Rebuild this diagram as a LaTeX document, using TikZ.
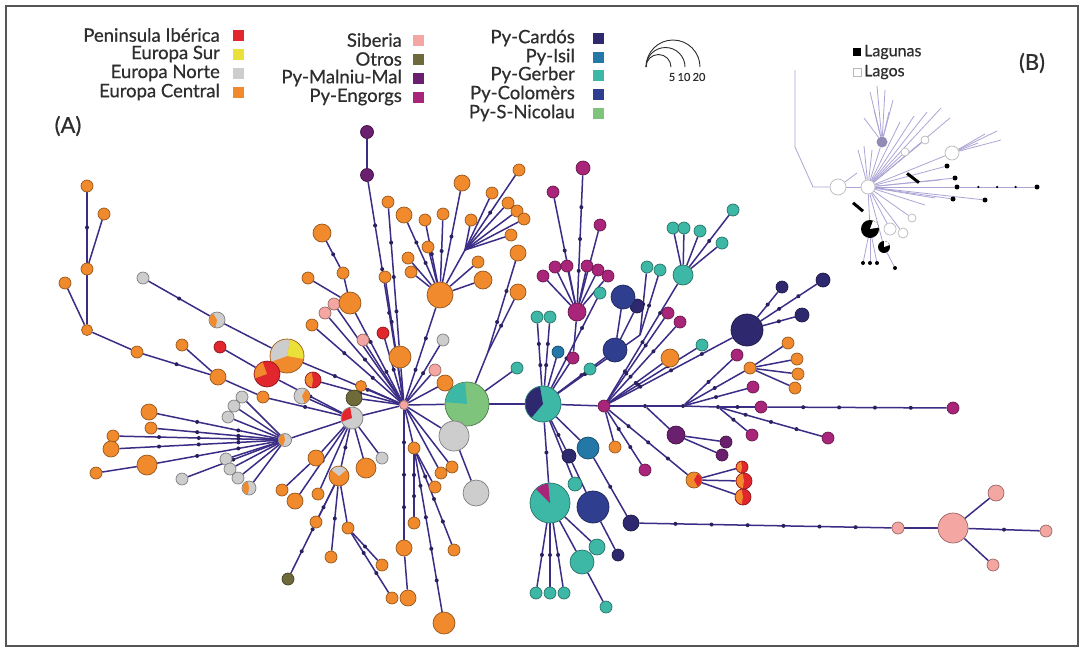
\documentclass[tikz,border=0pt]{standalone}
\usepackage{fontspec}
\setmainfont{Lato}
\newfontfamily\lgfont{Lato}[FakeBold=0.6]
\usetikzlibrary{backgrounds}
\definecolor{cOr}{HTML}{F08A2C}
\definecolor{cGy}{HTML}{CDCDCD}
\definecolor{cRe}{HTML}{E1262D}
\definecolor{cYe}{HTML}{E9E03A}
\definecolor{cPk}{HTML}{F4A6A2}
\definecolor{cOl}{HTML}{6E6A3A}
\definecolor{cMa}{HTML}{6A1F6F}
\definecolor{cEn}{HTML}{A8257A}
\definecolor{cCa}{HTML}{2E286F}
\definecolor{cIs}{HTML}{2478A8}
\definecolor{cGe}{HTML}{3DB8A6}
\definecolor{cCo}{HTML}{2F3E8E}
\definecolor{cSN}{HTML}{7EC47D}
\definecolor{cEd}{HTML}{3B2D86}
\definecolor{cLi}{HTML}{ADA4D6}
\definecolor{cTx}{HTML}{2E2E2E}
\definecolor{cFr}{HTML}{555555}
\newcommand{\hapn}[5]{\node[hap=#2,minimum size=#3pt] (#1) at (#4,#5) {};}
\newcommand{\hslice}[5]{\fill[#5] (#1.center) -- ++(#3:#2pt) arc[start angle=#3,end angle=#4,radius=#2pt] -- cycle;}
\newcommand{\hlink}[3]{\ifcase#3\relax
 \draw[ed] (#1)--(#2);\or
 \draw[ed] (#1)--node[mdt]{}(#2);\or
 \draw[ed] (#1)--node[mdt,pos=.33]{} node[mdt,pos=.67]{}(#2);\or
 \draw[ed] (#1)--node[mdt,pos=.25]{} node[mdt,pos=.5]{} node[mdt,pos=.75]{}(#2);\or
 \draw[ed] (#1)--node[mdt,pos=.2]{} node[mdt,pos=.4]{} node[mdt,pos=.6]{} node[mdt,pos=.8]{}(#2);\or
 \draw[ed] (#1)--node[mdt,pos=.167]{} node[mdt,pos=.333]{} node[mdt,pos=.5]{} node[mdt,pos=.667]{} node[mdt,pos=.833]{}(#2);\or
 \draw[ed] (#1)--node[mdt,pos=.143]{} node[mdt,pos=.286]{} node[mdt,pos=.429]{} node[mdt,pos=.571]{} node[mdt,pos=.714]{} node[mdt,pos=.857]{}(#2);\fi}
\newcommand{\ilink}[2]{\draw[ib] (#1)--(#2);}
\begin{document}
\begin{tikzpicture}[x=1pt,y=-1pt,
  hap/.style={circle,inner sep=0pt,fill=#1,draw=#1!62!black,line width=0.7pt},
  ed/.style={draw=cEd,line width=1.5pt},
  mdt/.style={circle,fill=cEd!70!black,inner sep=0pt,minimum size=4pt},
  lg/.style={anchor=east,text=cTx,font=\lgfont\fontsize{18.5}{20}\selectfont,inner sep=0pt},
  sq/.style={fill=#1,draw=none,minimum size=11pt,inner sep=0pt},
  ib/.style={draw=cLi,line width=0.8pt},
  wc/.style={circle,fill=white,draw=gray!55,line width=0.7pt,inner sep=0pt},
  bk/.style={circle,fill=black,inner sep=0pt}]
\useasboundingbox (0,0) rectangle (1083,651);
\begin{pgfonlayer}{background}
\fill[white] (0,0) rectangle (1083,651);
\end{pgfonlayer}
\draw[cFr,line width=1.6pt] (6,6) rectangle (1078,646);

% ---------------- legend ----------------
\node[lg] (t1) at (220,35) {Peninsula Ibérica};  \node[sq=cRe] (q1) at (238,35) {};
\node[lg] (t2) at (220,54) {Europa Sur};         \node[sq=cYe] (q2) at (238,54) {};
\node[lg] (t3) at (220,73) {Europa Norte};       \node[sq=cGy] (q3) at (238,73) {};
\node[lg] (t4) at (220,92) {Europa Central};     \node[sq=cOr] (q4) at (238,92) {};
\node[lg] (t5) at (402,40) {Siberia};            \node[sq=cPk] (q5) at (418,40) {};
\node[lg] (t6) at (402,59) {Otros};              \node[sq=cOl] (q6) at (418,59) {};
\node[lg] (t7) at (402,78) {Py-Malniu-Mal};      \node[sq=cMa] (q7) at (418,78) {};
\node[lg] (t8) at (402,97) {Py-Engorgs};         \node[sq=cEn] (q8) at (418,97) {};
\node[lg] (t9) at (575,38) {Py-Cardós};          \node[sq=cCa] (q9) at (598,38) {};
\node[lg] (t10) at (575,57) {Py-Isil};           \node[sq=cIs] (q10) at (598,57) {};
\node[lg] (t11) at (575,75) {Py-Gerber};         \node[sq=cGe] (q11) at (598,75) {};
\node[lg] (t12) at (575,94) {Py-Colomèrs};       \node[sq=cCo] (q12) at (598,94) {};
\node[lg] (t13) at (575,113) {Py-S-Nicolau};     \node[sq=cSN] (q13) at (598,113) {};
% size legend
\coordinate (sz0) at (646,67);
\draw[cTx,line width=0.9pt] (sz0) arc[start angle=180,end angle=0,radius=27pt];
\draw[cTx,line width=0.9pt] (sz0) arc[start angle=180,end angle=0,radius=19.5pt];
\draw[cTx,line width=0.9pt] (sz0) arc[start angle=180,end angle=0,radius=12.5pt];
\node[text=cTx,font=\lgfont\fontsize{11}{12}\selectfont,inner sep=0pt] (szl1) at (672,77) {5};
\node[text=cTx,font=\lgfont\fontsize{11}{12}\selectfont,inner sep=0pt] (szl2) at (684,77) {10};
\node[text=cTx,font=\lgfont\fontsize{11}{12}\selectfont,inner sep=0pt] (szl3) at (699,77) {20};
\node[text=cTx,font=\lgfont\fontsize{22}{24}\selectfont,inner sep=0pt] (labA) at (68,126) {(A)};
\node[text=cTx,font=\lgfont\fontsize{22}{24}\selectfont,inner sep=0pt] (labB) at (1032,63) {(B)};

% ---------------- network A: nodes ----------------
\hapn{L1}{cOr}{12}{87}{186}
\hapn{L2}{cOr}{12}{104}{214}
\hapn{L3}{cOr}{12}{87}{269}
\hapn{L4}{cOr}{12}{65}{283}
\hapn{L5}{cOr}{11}{87}{330}
\hapn{L6}{cOr}{12}{137}{352}
\hapn{L7}{cOr}{16}{218}{377}
\hapn{L8}{cOr}{12}{182}{345}
\hapn{L9}{cOr}{12}{263}{397}
\hapn{G1}{cGy}{12}{143}{278}
\hapn{G2}{cGy}{16}{217}{320} \hslice{G2}{7.5}{120}{260}{cOr}
\hapn{BP}{cOr}{34}{287}{356} \hslice{BP}{16.5}{-10}{80}{cYe} \hslice{BP}{16.5}{80}{200}{cGy}
\hapn{RP}{cRe}{26}{267}{374} \hslice{RP}{12.5}{110}{200}{cOr}
\hapn{R1}{cRe}{12}{220}{347}
\hapn{R2}{cRe}{16}{313}{380} \hslice{R2}{7.5}{100}{260}{cOr}
\hapn{GO}{cGy}{16}{302}{396} \hslice{GO}{7.5}{-70}{60}{cOr}
\hapn{OS}{cOr}{11}{361}{386}
\hapn{OL1}{cOl}{16}{354}{398}
\hapn{H2}{cGy}{22}{352}{418} \hslice{H2}{10.5}{100}{200}{cRe}
\hapn{H3}{cGy}{13}{285}{440} \hslice{H3}{6}{100}{250}{cOr}
\hapn{S1}{cOr}{16}{149}{412}
\hapn{S2}{cOr}{12}{151}{428}
\hapn{S3}{cOr}{12}{113}{436}
\hapn{S4}{cOr}{16}{111}{449}
\hapn{S5}{cOr}{20}{147}{465}
\hapn{S6}{cOr}{12}{96}{473}
\hapn{S7}{cGy}{12}{182}{479}
\hapn{Ga}{cGy}{12}{242}{397}
\hapn{Gb}{cGy}{12}{234}{406}
\hapn{Gc}{cGy}{12}{228}{417}
\hapn{Gd}{cGy}{12}{226}{459}
\hapn{Ge}{cGy}{12}{230}{469}
\hapn{Gf}{cGy}{12}{238}{478}
\hapn{Gg}{cGy}{14}{249}{488} \hslice{Gg}{6.5}{100}{260}{cOr}
\hapn{P}{cPk}{9}{404}{405}
\hapn{MA1}{cMa}{13}{367}{132}
\hapn{MA2}{cMa}{13}{367}{175}
\hapn{U1}{cOr}{18}{322}{233}
\hapn{U2}{cOr}{12}{343}{273}
\hapn{U3}{cOr}{12}{308}{278}
\hapn{UP1}{cPk}{12}{334}{304}
\hapn{UH}{cOr}{22}{350}{303}
\hapn{UP2}{cPk}{12}{325}{313}
\hapn{U4}{cOr}{12}{312}{325}
\hapn{UP3}{cPk}{12}{363}{340}
\hapn{UR}{cRe}{12}{383}{333}
\hapn{U5}{cOr}{12}{385}{277}
\hapn{U6}{cOr}{12}{388}{202}
\hapn{U7}{cOr}{16}{404}{215}
\hapn{OH}{cOr}{22}{400}{357}
\hapn{Q1}{cGy}{12}{443}{340}
\hapn{Q2}{cPk}{12}{435}{370}
\hapn{Q3}{cOr}{16}{445}{383}
\hapn{TH}{cOr}{26}{440}{295}
\hapn{T1}{cOr}{12}{425}{220}
\hapn{T2}{cOr}{12}{443}{214}
\hapn{T3}{cOr}{12}{428}{247}
\hapn{T4}{cOr}{12}{408}{258}
\hapn{T5}{cOr}{12}{411}{272}
\hapn{T6}{cOr}{16}{462}{183}
\hapn{T7}{cOr}{12}{492}{193}
\hapn{T8}{cOr}{12}{519}{170}
\hapn{T9}{cOr}{12}{508}{203}
\hapn{T10}{cOr}{12}{517}{211}
\hapn{T11}{cOr}{12}{524}{219}
\hapn{T12}{cOr}{12}{511}{235}
\hapn{T13}{cOr}{12}{471}{220}
\hapn{T14}{cOr}{12}{478}{262}
\hapn{T15}{cOr}{18}{483}{280}
\coordinate (J1) at (465,250);
\hapn{O8}{cOr}{16}{518}{253}
\hapn{O9}{cOr}{16}{518}{292}
\coordinate (J2) at (488,352);
\hapn{TE0}{cGe}{12}{517}{368}
\hapn{GB}{cSN}{44}{467}{404} \hslice{GB}{21.5}{95}{175}{cGe}
\hapn{GG1}{cGy}{30}{454}{436}
\hapn{GG2}{cGy}{26}{476}{493}
\hapn{D1}{cOr}{12}{414}{448}
\hapn{D2}{cOr}{12}{435}{487}
\hapn{D3}{cOr}{12}{414}{523}
\hapn{D4}{cOr}{12}{454}{550}
\hapn{D5}{cOr}{22}{444}{623}
\hapn{D6}{cOr}{16}{404}{548}
\hapn{D7}{cOr}{16}{408}{598}
\hapn{D8}{cOr}{12}{441}{473}
\hapn{D9}{cOr}{12}{452}{467}
\hapn{K1}{cOr}{16}{316}{458}
\hapn{MH}{cOr}{20}{339}{476} \hslice{MH}{9.5}{40}{140}{cGy}
\hapn{K2}{cOr}{20}{366}{468}
\hapn{K3}{cGy}{12}{382}{458}
\hapn{K4}{cOr}{12}{282}{490}
\hapn{K5}{cOr}{16}{295}{501}
\hapn{K6}{cOr}{12}{318}{494}
\hapn{W1}{cOr}{12}{316}{522}
\hapn{W2}{cOr}{12}{331}{557}
\hapn{W3}{cOr}{12}{348}{528}
\hapn{W4}{cOr}{12}{382}{565}
\hapn{W5}{cOr}{12}{392}{598}
\hapn{OL2}{cOl}{12}{288}{579}
% right part
\hapn{TB}{cGe}{36}{543}{404} \hslice{TB}{17.5}{100}{230}{cCa}
\hapn{TE1}{cGe}{12}{537}{317}
\hapn{TE2}{cGe}{12}{550}{317}
\hapn{IS1}{cIs}{12}{558}{352}
\hapn{EM1}{cEn}{12}{573}{358}
\hapn{TE3}{cGe}{12}{590}{369}
\hapn{TE4}{cGe}{12}{600}{293}
\hapn{CN1}{cCa}{14}{637}{306}
\hapn{CO1}{cCo}{24}{623}{297}
\hapn{CO2}{cCo}{24}{615}{350}
\hapn{EH}{cEn}{18}{577}{312}
\hapn{EM0}{cEn}{14}{583}{168}
\hapn{EMa}{cEn}{12}{553}{192}
\hapn{EMb}{cEn}{12}{600}{225}
\hapn{R01}{cEn}{12}{543}{276}
\hapn{R02}{cEn}{12}{555}{267}
\hapn{R03}{cEn}{12}{567}{266}
\hapn{R04}{cEn}{12}{587}{266}
\hapn{R05}{cEn}{12}{598}{270}
\hapn{R06}{cEn}{12}{608}{276}
\hapn{GH}{cGe}{20}{683}{275}
\hapn{GH1}{cGe}{12}{673}{228}
\hapn{GH2}{cGe}{12}{684}{228}
\hapn{GH3}{cGe}{12}{700}{231}
\hapn{GH4}{cGe}{12}{722}{243}
\hapn{GH5}{cGe}{12}{733}{210}
\hapn{TE5}{cGe}{12}{647}{267}
\hapn{TE6}{cGe}{12}{660}{270}
\coordinate (J3) at (640,335);
\hapn{EM2}{cEn}{12}{668}{313}
\hapn{EM3}{cEn}{12}{680}{322}
\hapn{TE7}{cGe}{12}{702}{345}
\hapn{O10}{cOr}{18}{670}{358}
\hapn{MH2}{cEn}{12}{604}{406}
\hapn{CB}{cCa}{32}{747}{330}
\hapn{CB1}{cCa}{12}{782}{287}
\hapn{CB2}{cCa}{14}{823}{280}
\hapn{CB3}{cCa}{14}{802}{315}
\node[mdt] (X1) at (645,406) {};
\node[mdt] (X2) at (683,406) {};
\node[mdt] (X3) at (718,407) {};
\hapn{EM4}{cEn}{12}{761}{407}
\hapn{EM5}{cEn}{12}{953}{408}
\hapn{EM6}{cEn}{12}{737}{355}
\hapn{OC}{cOr}{12}{750}{368}
\hapn{OC1}{cOr}{12}{788}{343}
\hapn{OC2}{cOr}{12}{797}{359}
\hapn{OC3}{cOr}{12}{798}{374}
\hapn{OC4}{cOr}{12}{795}{388}
\hapn{EM7}{cEn}{12}{753}{387}
\hapn{EM8}{cEn}{12}{752}{435}
\hapn{EM9}{cEn}{12}{828}{438}
\hapn{DP1}{cMa}{18}{676}{435}
\hapn{DP2}{cMa}{12}{726}{442}
\hapn{DP3}{cMa}{12}{722}{455}
\hapn{O11}{cOr}{12}{615}{447}
\hapn{EM10}{cEn}{12}{645}{470}
\hapn{OR}{cOr}{16}{694}{480} \hslice{OR}{7.5}{-60}{60}{cRe}
\hapn{RR1}{cRe}{12}{742}{467} \hslice{RR1}{5.5}{100}{260}{cOr}
\hapn{RR2}{cRe}{16}{744}{481} \hslice{RR2}{7.5}{100}{260}{cOr}
\hapn{RR3}{cRe}{16}{743}{497} \hslice{RR3}{7.5}{100}{260}{cOr}
\hapn{CA3}{cCa}{14}{569}{456}
\hapn{IS2}{cIs}{22}{588}{448}
\hapn{TE8}{cGe}{14}{575}{484}
\hapn{TG}{cGe}{40}{550}{503} \hslice{TG}{19.5}{95}{135}{cEn}
\hapn{CO3}{cCo}{32}{593}{507}
\hapn{CA4}{cCa}{16}{631}{523}
\hapn{CA5}{cCa}{12}{618}{555}
\hapn{TE9}{cGe}{16}{597}{547}
\hapn{TE10}{cGe}{24}{582}{562}
\hapn{TE11}{cGe}{12}{606}{607}
\hapn{TE12}{cGe}{12}{536}{593}
\hapn{TE13}{cGe}{12}{550}{593}
\hapn{TE14}{cGe}{12}{564}{593}
\hapn{PK1}{cPk}{12}{898}{528}
\hapn{PKB}{cPk}{30}{953}{528}
\hapn{PK2}{cPk}{16}{996}{493}
\hapn{PK3}{cPk}{12}{1046}{531}
\hapn{PK4}{cPk}{12}{993}{565}

% ---------------- network A: edges ----------------
\begin{pgfonlayer}{background}
\hlink{L1}{L3}{1}\hlink{L2}{L3}{0}\hlink{L3}{L5}{0}\hlink{L4}{L5}{0}\hlink{L5}{L6}{0}
\hlink{L6}{L7}{1}\hlink{L8}{L7}{0}\hlink{L7}{L9}{0}\hlink{L9}{H2}{1}
\hlink{G1}{G2}{1}\hlink{G2}{BP}{0}\hlink{BP}{P}{2}\hlink{R1}{RP}{0}\hlink{RP}{H2}{1}
\hlink{R2}{P}{1}\hlink{GO}{H2}{0}\hlink{H3}{H2}{0}
\hlink{S1}{H3}{2}\hlink{S2}{H3}{2}\hlink{S3}{H3}{3}\hlink{S4}{H3}{3}\hlink{S6}{S5}{0}
\hlink{S5}{H3}{2}\hlink{S7}{H3}{1}
\hlink{Ga}{H3}{0}\hlink{Gb}{H3}{0}\hlink{Gc}{H3}{0}\hlink{Gd}{H3}{0}\hlink{Ge}{H3}{0}\hlink{Gf}{H3}{0}\hlink{Gg}{H3}{0}
\hlink{OL1}{P}{0}\hlink{OS}{P}{0}\hlink{H2}{P}{0}
\hlink{MA1}{MA2}{0}\hlink{MA2}{P}{4}
\hlink{U1}{U2}{1}\hlink{U2}{UH}{0}\hlink{U3}{UH}{0}\hlink{UH}{P}{2}\hlink{UP1}{P}{0}
\hlink{UP2}{P}{1}\hlink{U4}{P}{2}\hlink{UP3}{P}{0}\hlink{UR}{P}{1}\hlink{U5}{P}{2}
\hlink{U6}{OH}{3}\hlink{U7}{TH}{2}\hlink{OH}{P}{0}\hlink{Q1}{P}{1}\hlink{Q2}{P}{0}\hlink{Q3}{P}{0}
\hlink{T1}{TH}{1}\hlink{T2}{TH}{1}\hlink{T3}{TH}{0}\hlink{T4}{TH}{0}\hlink{T5}{TH}{0}
\hlink{T6}{TH}{1}\hlink{T7}{J1}{0}\hlink{T8}{J1}{1}\hlink{T9}{J1}{0}\hlink{T10}{J1}{0}
\hlink{T11}{J1}{0}\hlink{T12}{J1}{0}\hlink{J1}{TH}{0}\hlink{T13}{J1}{0}\hlink{T14}{TH}{0}
\hlink{T15}{TH}{0}\hlink{TH}{P}{2}
\hlink{O8}{J2}{2}\hlink{O9}{J2}{1}\hlink{J2}{GB}{0}\hlink{TE0}{GB}{0}
\hlink{GB}{P}{0}\hlink{GG1}{P}{0}\hlink{GG1}{GG2}{0}
\hlink{D1}{P}{0}\hlink{D1}{D2}{0}\hlink{D1}{D3}{2}\hlink{D1}{D4}{3}\hlink{D1}{D5}{4}
\hlink{P}{D6}{3}\hlink{D6}{D7}{0}\hlink{D8}{P}{0}\hlink{D9}{P}{0}
\hlink{K1}{H2}{0}\hlink{MH}{H2}{1}\hlink{K2}{H2}{0}\hlink{K3}{H2}{0}\hlink{K4}{K1}{0}
\hlink{K5}{H2}{1}\hlink{K6}{H2}{0}
\hlink{MH}{W1}{0}\hlink{MH}{W2}{1}\hlink{MH}{OL2}{3}\hlink{MH}{W3}{0}\hlink{W3}{W4}{1}\hlink{W3}{W5}{2}
\hlink{GB}{TB}{0}\hlink{TB}{MH2}{0}
\hlink{TE1}{TB}{2}\hlink{TE2}{TB}{2}\hlink{IS1}{TB}{0}\hlink{EH}{EM1}{0}\hlink{EM1}{TB}{0}
\hlink{TE3}{TB}{0}\hlink{TE4}{TB}{2}\hlink{CO1}{CO2}{0}\hlink{CN1}{CO2}{0}\hlink{CO2}{TB}{1}
\hlink{EM0}{EH}{3}\hlink{EMa}{EH}{1}\hlink{EMb}{EH}{1}
\hlink{R01}{EH}{0}\hlink{R02}{EH}{0}\hlink{R03}{EH}{0}\hlink{R04}{EH}{0}\hlink{R05}{EH}{0}\hlink{R06}{EH}{0}
\hlink{GH1}{GH}{0}\hlink{GH2}{GH}{0}\hlink{GH3}{GH}{0}\hlink{GH4}{GH}{0}\hlink{GH5}{GH}{1}
\hlink{GH}{MH2}{3}\hlink{TE5}{J3}{1}\hlink{TE6}{J3}{1}\hlink{J3}{TB}{2}
\hlink{EM2}{MH2}{2}\hlink{EM3}{MH2}{2}\hlink{TE7}{MH2}{2}\hlink{O10}{MH2}{1}
\hlink{CB}{MH2}{3}\hlink{CB1}{CB}{1}\hlink{CB2}{CB}{2}\hlink{CB3}{CB}{1}
\hlink{MH2}{X1}{0}\hlink{X1}{X2}{0}\hlink{X2}{X3}{0}\hlink{X3}{EM4}{1}\hlink{EM4}{EM5}{4}
\hlink{X2}{EM6}{1}\hlink{X2}{OC}{1}\hlink{OC}{OC1}{0}\hlink{OC}{OC2}{0}\hlink{OC}{OC3}{0}\hlink{OC}{OC4}{0}
\hlink{X2}{EM7}{1}\hlink{X3}{EM8}{1}\hlink{X3}{EM9}{3}
\hlink{X1}{DP1}{0}\hlink{DP1}{DP2}{0}\hlink{DP1}{DP3}{0}
\hlink{MH2}{O11}{0}\hlink{MH2}{EM10}{2}\hlink{MH2}{OR}{3}
\hlink{OR}{RR1}{0}\hlink{OR}{RR2}{0}\hlink{OR}{RR3}{0}
\hlink{TB}{CA3}{1}\hlink{TB}{IS2}{0}\hlink{IS2}{CA4}{1}\hlink{CA3}{CO3}{0}\hlink{TB}{TE8}{0}
\hlink{TB}{TG}{1}\hlink{CO3}{CA5}{0}\hlink{TG}{TE9}{0}\hlink{TG}{TE10}{0}\hlink{TE10}{TE11}{0}
\hlink{TG}{TE12}{1}\hlink{TG}{TE13}{1}\hlink{TG}{TE14}{1}
\hlink{CA4}{PK1}{6}\hlink{PK1}{PKB}{0}\hlink{PKB}{PK2}{0}\hlink{PKB}{PK3}{1}\hlink{PKB}{PK4}{0}
\end{pgfonlayer}

% ---------------- inset B ----------------
\node[bk,minimum size=8pt,rectangle] (bsq1) at (857,52) {};
\node[anchor=west,text=cTx,font=\lgfont\fontsize{16}{18}\selectfont,inner sep=0pt] (btx1) at (864,52) {Lagunas};
\node[wc,rectangle,minimum size=8pt] (bsq2) at (857,72) {};
\node[anchor=west,text=cTx,font=\lgfont\fontsize{16}{18}\selectfont,inner sep=0pt] (btx2) at (864,72) {Lagos};
\coordinate (bA) at (795,70); \coordinate (bB) at (795,147); \coordinate (bC) at (813,187);
\node[wc,minimum size=16pt] (bW1) at (838,187) {};
\node[wc,minimum size=14pt] (bW2) at (868,187) {};
\node[wc,minimum size=14pt] (bW3) at (952,153) {};
\node[wc,minimum size=8pt] (bW4) at (905,152) {};
\node[wc,minimum size=8pt] (bW5) at (925,140) {};
\node[wc,minimum size=12pt] (bW6) at (890,229) {};
\node[wc,minimum size=10pt] (bW7) at (903,233) {};
\node[wc,minimum size=8pt] (bW8) at (912,218) {};
\node[circle,fill=cLi!85!black,inner sep=0pt,minimum size=11pt] (bBl) at (882,142) {};
\node[bk,minimum size=5pt] (bB1) at (947,166) {};
\node[bk,minimum size=5pt] (bB2) at (955,178) {};
\node[bk,minimum size=5pt] (bB3) at (957,187) {};
\node[bk,minimum size=5pt] (bB4) at (953,199) {};
\node[bk,minimum size=5pt] (bB5) at (985,200) {};
\node[bk,minimum size=5pt] (bE) at (1037,187) {};
\node[bk,minimum size=18pt] (bK1) at (870,229) {};
\fill[white] (bK1.center) -- ++(10:9pt) arc[start angle=10,end angle=70,radius=9pt] -- cycle;
\node[bk,minimum size=12pt] (bK2) at (884,247) {};
\fill[white] (bK2.center) -- ++(20:6pt) arc[start angle=20,end angle=90,radius=6pt] -- cycle;
\node[bk,minimum size=4pt] (bD1) at (863,263) {};
\node[bk,minimum size=4pt] (bD2) at (870,263) {};
\node[bk,minimum size=4pt] (bD3) at (877,263) {};
\node[bk,minimum size=4pt] (bD4) at (895,268) {};
\node[bk,minimum width=15pt,minimum height=3pt,rectangle,rotate=-38] (bBar1) at (913,178) {};
\node[bk,minimum width=13pt,minimum height=3pt,rectangle,rotate=-40] (bBar2) at (858,207) {};
\begin{pgfonlayer}{background}
\draw[ib] (bA) -- (bB) -- (bC) -- (bW1);
\ilink{bW1}{bW2}
\draw[ib] (bW2) -- (bB3);
\draw[ib] (bB3) -- node[bk,minimum size=2.5pt,pos=.25]{} node[bk,minimum size=2.5pt,pos=.5]{} node[bk,minimum size=2.5pt,pos=.75]{} (bE);
\ilink{bW2}{bBl}\ilink{bW2}{bW3}\ilink{bW2}{bW4}\ilink{bW2}{bW5}\ilink{bW2}{bW6}\ilink{bW2}{bW7}\ilink{bW2}{bW8}
\ilink{bW2}{bB1}\ilink{bW2}{bB2}\ilink{bW2}{bB4}\ilink{bW2}{bB5}\ilink{bW2}{bK1}\ilink{bW2}{bK2}
\ilink{bK1}{bD1}\ilink{bK1}{bD2}\ilink{bK1}{bD3}\ilink{bK2}{bD4}
\foreach \i/\x/\y in {1/870/92,2/877/86,3/885/90,4/893/100,5/874/110,6/864/118,7/889/112}{
  \coordinate (bu\i) at (\x,\y); \ilink{bBl}{bu\i}}
\foreach \i/\x/\y in {1/900/122,2/914/116,3/927/112,4/941/108,5/950/118,6/858/150,7/864/146,8/872/150,9/935/198,10/925/205,11/940/180}{
  \coordinate (bv\i) at (\x,\y); \ilink{bW2}{bv\i}}
\foreach \i/\x/\y in {1/985/134,2/997/131,3/1001/140,4/978/143}{
  \coordinate (bw\i) at (\x,\y); \ilink{bW3}{bw\i}}
\coordinate (bx1) at (857,173); \ilink{bW1}{bx1}
\end{pgfonlayer}
\end{tikzpicture}
\end{document}
